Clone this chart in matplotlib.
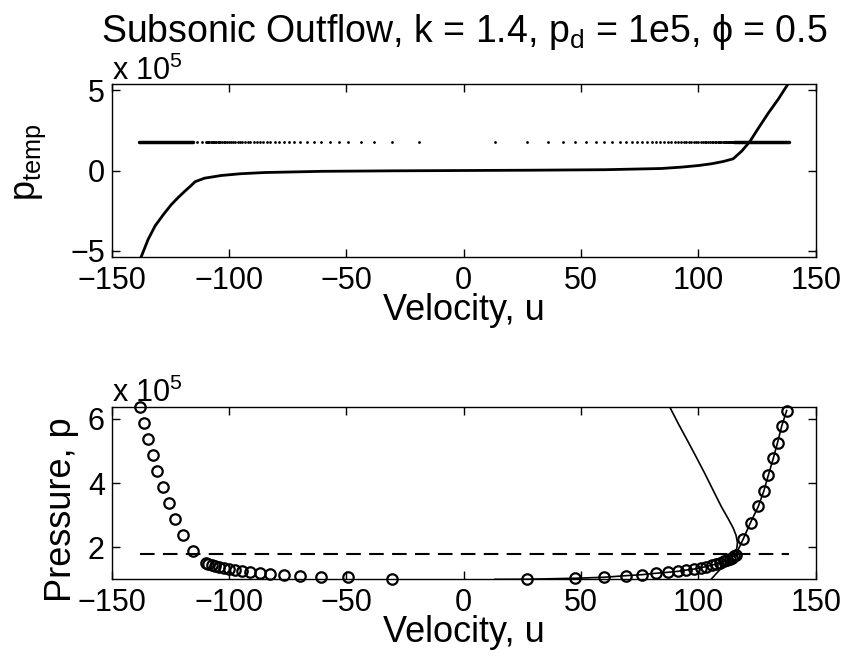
import matplotlib
matplotlib.use("Agg")
import matplotlib.pyplot as plt

plt.rcParams['font.family'] = ['Liberation Sans', 'DejaVu Sans']
plt.rcParams['mathtext.fontset'] = 'custom'
plt.rcParams['mathtext.rm'] = 'Liberation Sans'
plt.rcParams['mathtext.it'] = 'Liberation Sans:italic'
plt.rcParams['axes.unicode_minus'] = True

FS_TICK = 22
FS_LABEL = 26
FS_TITLE = 27

# ---------------- data (pressure values in units of 1e5) ----------------
title = 'Subsonic Outflow, k = 1.4, p$_{\\mathregular{d}}$ = 1e5, \u03d5 = 0.5'
x_ticks = [-150, -100, -50, 0, 50, 100, 150]
top_yticks = [-5, 0, 5]
bot_yticks = [2, 4, 6]
p_target = 1.8

# top panel: p_temp curve
ptemp_u = [-137.6, -134.5, -131.5, -128.0, -124.7, -121.8, -119.0, -116.5, -114.5,
           -110.5, -103.3, -95.0, -84.8, -60.0, -30.0, 0.0, 30.0, 60.0, 84.1, 92.7,
           100.0, 105.5, 110.5, 114.8, 118.5, 121.9, 125.8, 129.8, 134.0, 138.0]
ptemp_p = [-5.44, -4.30, -3.45, -2.75, -2.14, -1.70, -1.31, -0.98, -0.70,
           -0.48, -0.31, -0.20, -0.125, -0.05, -0.02, 0.0, 0.02, 0.05, 0.125, 0.21,
           0.31, 0.42, 0.56, 0.73, 1.22, 1.81, 2.70, 3.59, 4.45, 5.36]

# top panel: sampled velocities (dots at p_target)
dots_left_u = [-19.2, -30.4, -38.2, -43.8, -49.2, -53.0, -57.0, -61.0, -63.7, -66.7,
               -69.9, -72.3, -74.5, -76.6, -78.6, -80.5, -82.4, -84.0, -85.5, -87.0,
               -88.3, -89.6, -90.9, -92.1, -93.3, -94.4, -95.4, -96.4, -97.4, -98.3,
               -99.2, -100.0, -100.8, -101.6, -102.3, -103.0, -103.7, -104.3, -104.9,
               -105.5, -106.0, -106.5, -107.0, -107.5, -107.9, -108.4, -108.8, -109.1,
               -109.5, -109.8, -111.6, -113.5]
dots_right_u = [13.3, 27.1, 35.7, 42.1, 47.5, 52.2, 56.3, 59.9, 63.3, 66.4, 69.2, 71.6,
                73.9, 76.0, 78.1, 80.1, 82.0, 83.8, 85.4, 87.0, 88.5, 89.9, 91.3, 92.5,
                93.7, 94.8, 95.9, 97.0, 98.1, 99.1, 100.0, 100.9, 101.8, 102.6, 103.4,
                104.2, 104.9, 105.6, 106.3, 107.0, 107.6, 108.2, 108.8, 109.3, 109.8,
                110.3, 110.8, 111.2, 111.7, 112.1, 112.5, 112.9, 113.3, 113.6, 114.0,
                114.3, 114.6, 114.9]
band_left_u = [-138.4, -115.2]
band_right_u = [115.3, 138.4]

# bottom panel: circles, left branch
circ_left_u = [-137.9, -136.1, -134.7, -132.6, -130.7, -128.3, -125.4, -123.0, -119.5,
               -115.5, -109.8, -108.8, -107.5, -106.0, -104.3, -102.3, -100.0, -97.4,
               -94.4, -90.9, -87.0, -82.4, -76.6, -69.9, -61.0, -49.2, -30.4]
circ_left_p = [6.38, 5.88, 5.38, 4.88, 4.38, 3.88, 3.39, 2.88, 2.38,
               1.88, 1.50, 1.47, 1.44, 1.41, 1.38, 1.35, 1.32, 1.29,
               1.26, 1.23, 1.19, 1.17, 1.14, 1.106, 1.085, 1.065, 1.02]

# bottom panel: circles, right branch (also joined by a line)
circ_right_u = [27.1, 47.5, 59.9, 69.2, 76.0, 82.0, 87.0, 91.3, 94.8, 98.1, 100.9,
                103.4, 105.6, 107.6, 109.3, 110.8, 112.1, 113.3, 114.3, 115.1, 115.9,
                119.1, 122.2, 125.5, 127.9, 129.8, 131.9, 133.7, 135.5, 137.6]
circ_right_p = [1.003, 1.034, 1.065, 1.115, 1.146, 1.19, 1.22, 1.25, 1.29, 1.32, 1.36,
                1.40, 1.44, 1.48, 1.52, 1.56, 1.60, 1.64, 1.68, 1.72, 1.76,
                2.26, 2.77, 3.27, 3.76, 4.25, 4.77, 5.26, 5.78, 6.26]
line_start_u = 13.3
line_start_p = 1.0

# bottom panel: second solid curve
curve2_u = [87.7, 91.5, 95.5, 99.2, 102.7, 106.3, 109.8, 112.6, 114.8, 116.0, 116.6,
            116.5, 116.3, 114.1, 112.0, 109.8, 107.6, 105.5]
curve2_p = [6.38, 5.84, 5.30, 4.79, 4.30, 3.77, 3.26, 2.90, 2.60, 2.38, 2.15,
            2.05, 1.95, 1.71, 1.52, 1.35, 1.18, 1.01]

# ---------------- figure ----------------
fig = plt.figure(figsize=(8.48, 6.6), dpi=100)
ax1 = fig.add_axes([0.1318, 0.6106, 0.8302, 0.2621])
ax2 = fig.add_axes([0.1318, 0.1227, 0.8302, 0.2611])

# top panel
ax1.plot(ptemp_u, ptemp_p, color='black', lw=2.0)
ax1.plot(dots_left_u, [p_target] * len(dots_left_u), linestyle='none', marker='o',
         ms=2.0, color='black', mew=0)
ax1.plot(dots_right_u, [p_target] * len(dots_right_u), linestyle='none', marker='o',
         ms=2.0, color='black', mew=0)
ax1.plot(band_left_u, [p_target] * 2, color='black', lw=2.5, solid_capstyle='round')
ax1.plot(band_right_u, [p_target] * 2, color='black', lw=2.5, solid_capstyle='round')
ax1.set_xlim(-150, 150)
ax1.set_ylim(-5.4, 5.4)
ax1.set_yticks(top_yticks)
ax1.set_title(title, fontsize=FS_TITLE, pad=30)
ax1.set_ylabel('p$_{\\mathregular{temp}}$', fontsize=FS_LABEL)
ax1.yaxis.set_label_coords(-0.090, 0.55)

# bottom panel
ax2.plot([line_start_u] + circ_right_u, [line_start_p] + circ_right_p, color='black', lw=1.2)
ax2.plot(curve2_u, curve2_p, color='black', lw=1.2)
ax2.plot(circ_left_u, circ_left_p, linestyle='none', marker='o', ms=7.5,
         mfc='none', mec='black', mew=1.6, clip_on=False)
ax2.plot(circ_right_u, circ_right_p, linestyle='none', marker='o', ms=7.5,
         mfc='none', mec='black', mew=1.6, clip_on=False)
ax2.plot([circ_left_u[0], circ_right_u[-1] + 1.0], [p_target, p_target], color='black',
         lw=1.5, linestyle=(0, (7, 4)))
ax2.set_xlim(-150, 150)
ax2.set_ylim(1.01, 6.38)
ax2.set_yticks(bot_yticks)
ax2.set_ylabel('Pressure, p', fontsize=FS_LABEL)
ax2.yaxis.set_label_coords(-0.046, 0.40)

for ax in (ax1, ax2):
    ax.set_xticks(x_ticks)
    ax.set_xlabel('Velocity, u', fontsize=FS_LABEL, labelpad=-2)
    ax.tick_params(direction='in', top=True, right=True, length=6, width=1,
                   labelsize=FS_TICK, pad=5)
    ax.tick_params(axis='x', pad=6.5)
    for s in ax.spines.values():
        s.set_linewidth(1.0)
    ax.text(0.0, 1.025, 'x 10$^{\\mathregular{5}}$', transform=ax.transAxes,
            fontsize=FS_TICK, ha='left', va='baseline')

fig.savefig('out.png', dpi=100)
